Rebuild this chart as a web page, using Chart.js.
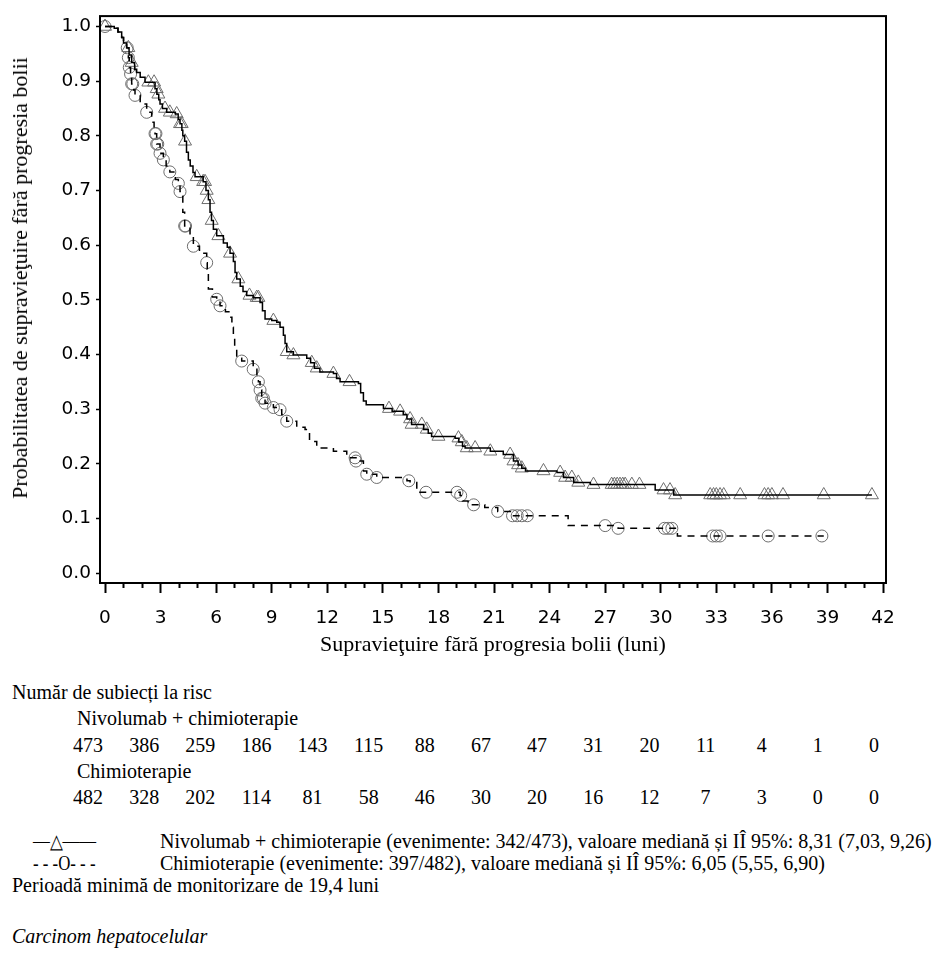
<!DOCTYPE html>
<html lang="ro">
<head>
<meta charset="utf-8">
<title>Supravieţuire fără progresia bolii</title>
<script src="https://cdn.jsdelivr.net/npm/chart.js@4.4.1/dist/chart.umd.min.js"></script>
<style>
  html, body { margin: 0; padding: 0; background: #fff; }
  #page { position: relative; width: 941px; height: 963px; overflow: hidden;
          font-family: "Liberation Serif", "Times New Roman", serif; font-size: 20px; color: #000; }
  #chart { position: absolute; left: 0; top: 0; }
  .txt { position: absolute; white-space: nowrap; line-height: 20px; }
  .sym { position: absolute; white-space: nowrap; line-height: 20px; transform: scaleX(0.84); transform-origin: left center; }
  .num { position: absolute; white-space: nowrap; line-height: 20px; transform: translateX(-50%); }
  #ytitle { position: absolute; left: 20px; top: 278px; white-space: nowrap; font-size: 22px; line-height: 22px;
            transform: translate(-50%, -50%) rotate(-90deg); }
</style>
</head>
<body>
<div id="page">
  <canvas id="chart" width="941" height="663"></canvas>
  <div id="ytitle">Probabilitatea de supravieţuire fără progresia bolii</div>
  <div class="txt" style="left:12px;top:682px">Număr de subiecți la risc</div>
  <div class="txt" style="left:77px;top:708px">Nivolumab + chimioterapie</div>
  <div id="risk1"></div>
  <div class="txt" style="left:77px;top:761px">Chimioterapie</div>
  <div id="risk2"></div>
  <div class="sym" style="left:33px;top:831px">—△——</div>
  <div class="txt" style="left:160px;top:831px">Nivolumab + chimioterapie (evenimente: 342/473), valoare mediană și IÎ 95%: 8,31 (7,03, 9,26)</div>
  <div class="sym" style="left:33px;top:853px">- - -O- - -</div>
  <div class="txt" style="left:160px;top:853px">Chimioterapie (evenimente: 397/482), valoare mediană și IÎ 95%: 6,05 (5,55, 6,90)</div>
  <div class="txt" style="left:12px;top:875px">Perioadă minimă de monitorizare de 19,4 luni</div>
  <div class="txt" style="left:12px;top:926px;font-style:italic">Carcinom hepatocelular</div>
</div>
<script>
// Kaplan-Meier steps (months, probability after the drop)
const nivoTime = [
  0, 0.5, 0.7, 0.9, 1.0, 1.17, 1.3, 1.44, 1.6, 1.71,
  1.9, 2.16, 2.7, 2.8, 2.9, 2.97, 3.1, 3.33, 3.8, 3.95,
  4.05, 4.15, 4.2, 4.3, 4.4, 4.5, 4.6, 4.75, 4.86, 5.3,
  5.45, 5.58, 5.67, 5.75, 5.85, 6.03, 6.39, 6.6, 6.75, 6.93,
  7.02, 7.11, 7.3, 7.45, 7.65, 8.0, 8.37, 8.5, 8.64, 9.0,
  9.27, 9.45, 9.63, 9.72, 9.81, 10.17, 10.89, 11.1, 11.3, 11.6,
  12.33, 12.5, 12.69, 13.68, 13.8, 13.95, 14.1, 15.03, 15.5, 16.1,
  16.3, 16.55, 17.2, 17.45, 17.63, 18.9, 19.1, 19.3, 19.44, 20.8,
  21.5, 22.05, 22.3, 22.5, 22.7, 24.4, 24.75, 25.3, 26.2, 29.7,
  30.7, 41.4
];
const nivoSurv = [
  1.0, 0.997, 0.99, 0.98, 0.97, 0.961, 0.948, 0.934, 0.922, 0.916,
  0.907, 0.898, 0.886, 0.876, 0.866, 0.858, 0.85, 0.843, 0.84, 0.83,
  0.822, 0.81, 0.80, 0.79, 0.77, 0.756, 0.745, 0.733, 0.725, 0.716,
  0.70, 0.683, 0.66, 0.645, 0.629, 0.617, 0.604, 0.596, 0.585, 0.570,
  0.55, 0.538, 0.525, 0.515, 0.508, 0.504, 0.495, 0.48, 0.465, 0.462,
  0.459, 0.45, 0.435, 0.42, 0.405, 0.399, 0.393, 0.385, 0.375, 0.368,
  0.365, 0.356, 0.350, 0.347, 0.33, 0.315, 0.308, 0.301, 0.296, 0.290,
  0.282, 0.272, 0.263, 0.256, 0.250, 0.247, 0.24, 0.232, 0.229, 0.223,
  0.217, 0.205, 0.198, 0.192, 0.187, 0.184, 0.175, 0.166, 0.162, 0.152,
  0.143, 0.143
];
const chemoTime = [
  0, 0.5, 0.7, 0.9, 1.0, 1.17, 1.26, 1.31, 1.38, 1.44,
  1.55, 1.62, 1.9, 2.25, 2.52, 2.65, 2.7, 2.79, 2.97, 3.15,
  3.3, 3.5, 3.8, 3.96, 4.05, 4.14, 4.2, 4.3, 4.59, 4.77,
  5.1, 5.49, 5.52, 5.58, 5.8, 6.03, 6.21, 6.5, 6.75, 6.85,
  6.93, 7.0, 7.11, 7.38, 8.0, 8.2, 8.28, 8.37, 8.46, 8.64,
  9.09, 9.45, 9.54, 9.81, 10.35, 10.8, 11.04, 11.43, 12.33, 13.05,
  13.55, 13.95, 14.13, 14.67, 16.3, 16.47, 16.83, 19.17, 19.3, 19.6,
  20.5, 21.2, 22.0, 25.0, 27.7, 30.9, 38.8
];
const chemoSurv = [
  1.0, 0.997, 0.99, 0.98, 0.97, 0.961, 0.943, 0.925, 0.913, 0.895,
  0.884, 0.874, 0.858, 0.843, 0.825, 0.81, 0.804, 0.785, 0.768, 0.756,
  0.745, 0.734, 0.72, 0.713, 0.698, 0.69, 0.66, 0.635, 0.617, 0.598,
  0.585, 0.568, 0.556, 0.52, 0.505, 0.501, 0.489, 0.478, 0.468, 0.45,
  0.435, 0.41, 0.393, 0.388, 0.373, 0.36, 0.350, 0.335, 0.320, 0.311,
  0.303, 0.299, 0.290, 0.278, 0.267, 0.263, 0.241, 0.229, 0.223, 0.211,
  0.205, 0.187, 0.181, 0.175, 0.169, 0.166, 0.148, 0.142, 0.132, 0.125,
  0.12, 0.113, 0.105, 0.087, 0.082, 0.068, 0.068
];

// censored observations (months)
const nivoCensor = [0, 1.26, 1.44, 2.34, 2.65, 2.79, 2.88, 3.24, 3.5, 3.87, 4.05, 4.14, 4.32, 4.95, 5.3,
  5.4, 5.49, 5.58, 5.76, 6.12, 6.75, 7.2, 7.8, 8.19, 8.28, 9.09, 9.81, 10.17, 11.16, 11.43, 12.33, 13.2,
  15.33, 15.93, 16.47, 16.55, 17.1, 17.37, 18.0, 19.08, 19.26, 19.53, 19.98, 20.8, 21.87, 22.05, 22.3,
  22.5, 23.67, 24.57, 24.84, 25.2, 25.55, 26.37, 27.35, 27.5, 27.65, 27.8, 27.95, 28.08, 28.44, 28.85,
  30.15, 30.5, 30.78, 32.67, 32.85, 33.0, 33.2, 33.4, 34.29, 35.6, 35.8, 36.0, 36.6, 38.8, 41.4];
const chemoCensor = [0, 1.2, 1.26, 1.31, 1.38, 1.44, 1.5, 1.62, 2.25, 2.7, 2.75, 2.79, 2.85, 2.97, 3.15,
  3.5, 3.96, 4.05, 4.3, 4.35, 4.77, 5.49, 6.03, 6.21, 7.38, 8.0, 8.28, 8.37, 8.46, 8.55, 8.64, 9.09, 9.45,
  9.81, 13.5, 13.55, 14.13, 14.67, 16.4, 17.33, 19.0, 19.2, 19.9, 21.2, 22.0, 22.25, 22.5, 22.8, 27.0,
  27.7, 30.2, 30.4, 30.6, 32.8, 33.0, 33.2, 35.8, 38.7];

// numbers at risk, every 3 months from 0 to 42
const riskNivo = [473, 386, 259, 186, 143, 115, 88, 67, 47, 31, 20, 11, 4, 1, 0];
const riskChemo = [482, 328, 202, 114, 81, 58, 46, 30, 20, 16, 12, 7, 3, 0, 0];

function steps(times, surv) {
  return times.map((t, i) => ({ x: t, y: surv[i] }));
}
function onCurve(times, surv, censor) {
  return censor.map(t => {
    let k = 0;
    for (let i = 0; i < times.length; i++) if (times[i] <= t) k = i;
    return { x: t, y: surv[k] };
  });
}

function fillRisk(id, values, top) {
  const box = document.getElementById(id);
  values.forEach((v, i) => {
    const d = document.createElement('div');
    d.className = 'num';
    d.style.left = (88 + 56.14 * i) + 'px';
    d.style.top = top + 'px';
    d.textContent = v;
    box.appendChild(d);
  });
}
fillRisk('risk1', riskNivo, 735);
fillRisk('risk2', riskChemo, 787);

const frame = {
  id: 'frame',
  afterDraw(chart) {
    const { ctx, chartArea: a } = chart;
    ctx.save();
    ctx.strokeStyle = '#000';
    ctx.lineWidth = 2;
    ctx.strokeRect(a.left, a.top, a.right - a.left, a.bottom - a.top);
    ctx.restore();
  }
};

const ctx = document.getElementById('chart').getContext('2d');
const chart = new Chart(ctx, {
  type: 'line',
  data: {
    datasets: [
      {
        label: 'Nivolumab + chimioterapie',
        data: steps(nivoTime, nivoSurv),
        stepped: 'before',
        borderColor: '#000',
        borderWidth: 1.5,
        pointRadius: 0,
        fill: false
      },
      {
        label: 'Chimioterapie',
        data: steps(chemoTime, chemoSurv),
        stepped: 'before',
        borderColor: '#000',
        borderWidth: 1.5,
        borderDash: [7, 6],
        pointRadius: 0,
        fill: false
      },
      {
        label: 'cenzurat nivolumab',
        data: onCurve(nivoTime, nivoSurv, nivoCensor),
        showLine: false,
        pointStyle: 'triangle',
        pointRadius: 7.5,
        pointBorderWidth: 1,
        pointBorderColor: '#6e6e6e',
        pointBackgroundColor: 'rgba(0,0,0,0)'
      },
      {
        label: 'cenzurat chimioterapie',
        data: onCurve(chemoTime, chemoSurv, chemoCensor),
        showLine: false,
        pointStyle: 'circle',
        pointRadius: 6,
        pointBorderWidth: 1,
        pointBorderColor: '#6e6e6e',
        pointBackgroundColor: 'rgba(0,0,0,0)'
      }
    ]
  },
  options: {
    responsive: false,
    animation: false,
    events: [],
    layout: { padding: { left: 0, top: 12, right: 55, bottom: 0 } },
    plugins: { legend: { display: false }, tooltip: { enabled: false } },
    scales: {
      x: {
        type: 'linear',
        min: -0.27,
        max: 42.16,
        afterFit: s => { s.height = 80; },
        border: { display: false },
        grid: {
          drawOnChartArea: false,
          tickLength: 10,
          tickWidth: 2,
          tickColor: '#000',
          tickBorderDash: c => (c.tick && c.tick.value % 3 !== 0) ? [5, 100] : []
        },
        ticks: {
          stepSize: 1,
          autoSkip: false,
          maxRotation: 0,
          includeBounds: false,
          padding: 14,
          color: '#000',
          font: { family: 'DejaVu Sans', size: 18.5 },
          callback: v => (v % 3 === 0 ? String(v) : '')
        },
        title: {
          display: true,
          text: 'Supravieţuire fără progresia bolii (luni)',
          color: '#000',
          font: { family: 'Liberation Serif', size: 22 },
          padding: { top: 0, bottom: 5 }
        }
      },
      y: {
        type: 'linear',
        min: -0.018,
        max: 1.019,
        afterFit: s => { s.width = 100; },
        border: { display: false },
        grid: { drawOnChartArea: false, tickLength: 4, tickWidth: 1.5, tickColor: '#000' },
        ticks: {
          stepSize: 0.1,
          includeBounds: false,
          padding: 5,
          color: '#000',
          font: { family: 'DejaVu Sans', size: 18.5 },
          callback: v => v.toFixed(1)
        }
      }
    }
  },
  plugins: [frame]
});
</script>
</body>
</html>
